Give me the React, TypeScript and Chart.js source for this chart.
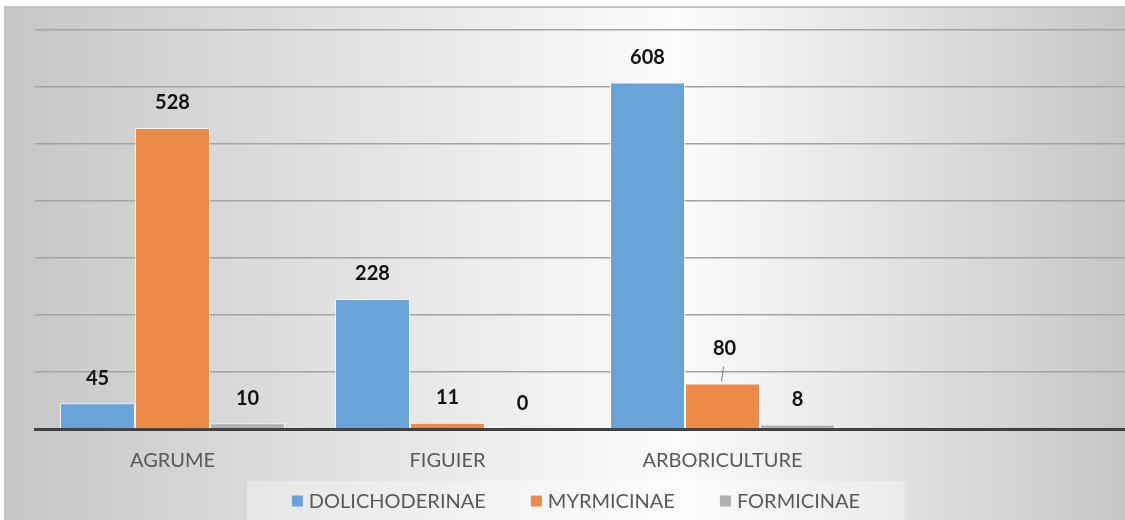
import React, { useEffect, useRef } from "react";
import { Chart, registerables } from "chart.js";

Chart.register(...registerables);

const categories = ["AGRUME", "FIGUIER", "ARBORICULTURE", ""];
const seriesNames = ["DOLICHODERINAE", "MYRMICINAE", "FORMICINAE"];
const dolichoderinae = [45, 228, 608, null];
const myrmicinae = [528, 11, 80, null];
const formicinae = [10, 0, 8, null];
const seriesColors = ["#6aa3da", "#ec8a47", "#b0b0b0"];
const yTicks = [0, 100, 200, 300, 400, 500, 600, 700];

const FONT = "Lato, 'Open Sans', 'Liberation Sans', sans-serif";

const backgroundPlugin = {
  id: "bgPlugin",
  beforeDraw(chart: any) {
    const { ctx, height } = chart;
    const width = 1125;
    ctx.save();
    ctx.fillStyle = "#ffffff";
    ctx.fillRect(0, 0, chart.width, height);
    const g = ctx.createLinearGradient(4, 0, width, 0);
    g.addColorStop(0, "#c6c6c6");
    g.addColorStop(0.6, "#fcfcfc");
    g.addColorStop(1, "#c6c6c6");
    ctx.fillStyle = g;
    ctx.fillRect(4, 7, chart.width - 4, height - 7);
    ctx.fillStyle = "#c4c4c4";
    ctx.fillRect(4, 6, chart.width - 4, 2);
    ctx.restore();
  },
};

const labelsPlugin = {
  id: "valueLabels",
  afterDatasetsDraw(chart: any) {
    const { ctx } = chart;
    ctx.save();
    ctx.font = `bold 20px ${FONT}`;
    ctx.fillStyle = "#111111";
    ctx.textAlign = "center";
    ctx.textBaseline = "middle";
    chart.data.datasets.forEach((ds: any, di: number) => {
      const meta = chart.getDatasetMeta(di);
      meta.data.forEach((bar: any, i: number) => {
        const v = ds.data[i];
        if (v === null || v === undefined) return;
        const moved = di === 1 && i === 2;
        const off = moved ? 35 : 25;
        ctx.fillText(String(v), bar.x + (moved ? 2 : 0), bar.y - off);
        if (moved) {
          ctx.strokeStyle = "#777777";
          ctx.lineWidth = 1;
          ctx.beginPath();
          ctx.moveTo(bar.x + 1, bar.y - 17);
          ctx.lineTo(bar.x - 1, bar.y - 2);
          ctx.stroke();
        }
      });
    });
    ctx.restore();
  },
};

const legendPlugin = {
  id: "customLegend",
  afterDraw(chart: any) {
    const { ctx } = chart;
    ctx.save();
    ctx.font = `20px ${FONT}`;
    const box = 11;
    const gapText = 6;
    const gapItem = 45;
    const items = chart.data.datasets.map((ds: any) => ({
      label: ds.label,
      color: ds.backgroundColor,
      w: box + gapText + ctx.measureText(ds.label).width,
    }));
    const total = items.reduce((s: number, it: any) => s + it.w, 0) + gapItem * (items.length - 1);
    const cx = 576;
    const cy = 501;
    ctx.fillStyle = "rgba(255,255,255,0.35)";
    ctx.fillRect(cx - total / 2 - 45, 481, total + 90, 39);
    let x = cx - total / 2;
    ctx.textBaseline = "middle";
    ctx.textAlign = "left";
    items.forEach((it: any) => {
      ctx.fillStyle = it.color;
      ctx.fillRect(x, cy - box / 2, box, box);
      ctx.fillStyle = "#595959";
      ctx.fillText(it.label, x + box + gapText, cy + 1);
      x += it.w + gapItem;
    });
    ctx.restore();
  },
};

export default function App() {
  const ref = useRef<HTMLCanvasElement | null>(null);
  useEffect(() => {
    document.body.style.margin = "0";
    document.body.style.overflow = "hidden";
    if (!ref.current) return;
    const chart = new Chart(ref.current, {
      type: "bar",
      data: {
        labels: categories,
        datasets: [dolichoderinae, myrmicinae, formicinae].map((d, i) => ({
          label: seriesNames[i],
          data: d,
          backgroundColor: seriesColors[i],
          borderColor: "rgba(255,255,255,0.75)",
          borderWidth: 1,
          borderSkipped: "bottom",
          categoryPercentage: 0.818,
          barPercentage: 1,
        })),
      },
      options: {
        responsive: false,
        animation: false,
        layout: { padding: { left: 35, right: 0, top: 30, bottom: 27 } },
        plugins: { legend: { display: false }, tooltip: { enabled: false } },
        scales: {
          x: {
            z: 1,
            grid: { display: false, drawTicks: false },
            border: { display: true, color: "#404040", width: 3 },
            ticks: { color: "#595959", font: { family: FONT, size: 20 }, padding: 20, maxRotation: 0, autoSkip: false },
          },
          y: {
            min: yTicks[0],
            max: yTicks[yTicks.length - 1],
            afterBuildTicks: (scale: any) => {
              scale.ticks = yTicks.map((v) => ({ value: v }));
            },
            grid: {
              drawTicks: false,
              color: (c: any) => (c.tick && c.tick.value === 0 ? "rgba(0,0,0,0)" : "#a3a3a3"),
              lineWidth: 1.5,
            },
            border: { display: false },
            ticks: { display: false },
          },
        },
      },
      plugins: [backgroundPlugin, labelsPlugin, legendPlugin],
    });
    return () => chart.destroy();
  }, []);
  return (
    <div style={{ width: 1125, height: 520, overflow: "hidden" }}>
      <canvas ref={ref} width={1135} height={520} style={{ display: "block" }} />
    </div>
  );
}
